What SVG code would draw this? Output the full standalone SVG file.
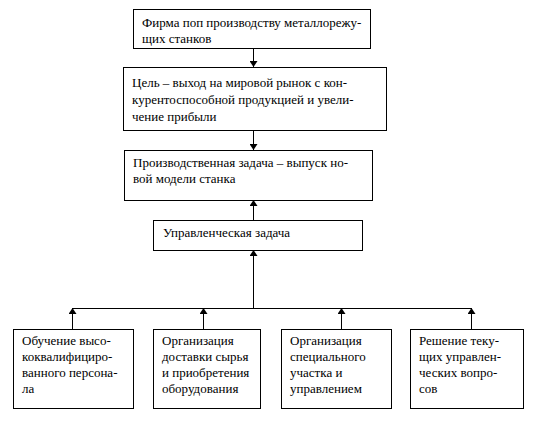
<svg xmlns="http://www.w3.org/2000/svg" width="536" height="428" viewBox="0 0 536 428">
<style>
.b{fill:#fff;stroke:#000;stroke-width:1}
.t{font-family:'Liberation Serif','DejaVu Serif',serif;font-size:13px;fill:#000}
.c{fill:none;stroke:#000;stroke-width:1}
</style>
<defs>
<marker id="ah" viewBox="0 0 6 8" refX="6" refY="4" markerWidth="6" markerHeight="8" markerUnits="userSpaceOnUse" orient="auto">
<path d="M0,0 L6,4 L0,8 Z" fill="#000"/>
</marker>
</defs>
<rect width="536" height="428" fill="#fff"/>
<g id="connectors">
<line class="c" x1="253.5" y1="48" x2="253.5" y2="67" marker-end="url(#ah)"/>
<line class="c" x1="253.5" y1="130" x2="253.5" y2="150" marker-end="url(#ah)"/>
<line class="c" x1="253.5" y1="220" x2="253.5" y2="200" marker-end="url(#ah)"/>
<line class="c" x1="253.5" y1="308" x2="253.5" y2="250" marker-end="url(#ah)"/>
<line class="c" x1="72" y1="308.5" x2="471" y2="308.5"/>
<line class="c" x1="72.5" y1="329" x2="72.5" y2="308" marker-end="url(#ah)"/>
<line class="c" x1="203.5" y1="329" x2="203.5" y2="308" marker-end="url(#ah)"/>
<line class="c" x1="341.5" y1="329" x2="341.5" y2="308" marker-end="url(#ah)"/>
<line class="c" x1="471.5" y1="329" x2="471.5" y2="308" marker-end="url(#ah)"/>
</g>
<g font-family="Liberation Serif, DejaVu Serif, serif">
<g id="n1">
<rect class="b" x="133.5" y="9.5" width="237" height="39"/>
<text class="t" x="142" y="27">Фирма поп производству металлорежу-</text>
<text class="t" x="142" y="43">щих станков</text>
</g>
<g id="n2">
<rect class="b" x="123.5" y="67.5" width="263" height="63"/>
<text class="t" x="132" y="87">Цель – выход на мировой рынок с кон-</text>
<text class="t" x="132" y="104">курентоспособной продукцией и увели-</text>
<text class="t" x="132" y="121">чение прибыли</text>
</g>
<g id="n3">
<rect class="b" x="124.5" y="150.5" width="248" height="50"/>
<text class="t" x="133" y="167">Производственная задача – выпуск но-</text>
<text class="t" x="133" y="183">вой модели станка</text>
</g>
<g id="n4">
<rect class="b" x="153.5" y="220.5" width="209" height="30"/>
<text class="t" x="163" y="237">Управленческая задача</text>
</g>
<g id="n5">
<rect class="b" x="13.5" y="329.5" width="120" height="79"/>
<text class="t" x="22" y="345">Обучение высо-</text>
<text class="t" x="22" y="361">коквалифициро-</text>
<text class="t" x="22" y="377">ванного персона-</text>
<text class="t" x="22" y="393">ла</text>
</g>
<g id="n6">
<rect class="b" x="153.5" y="329.5" width="107" height="79"/>
<text class="t" x="162" y="345">Организация</text>
<text class="t" x="162" y="361">доставки сырья</text>
<text class="t" x="162" y="377">и приобретения</text>
<text class="t" x="162" y="393">оборудования</text>
</g>
<g id="n7">
<rect class="b" x="281.5" y="329.5" width="110" height="79"/>
<text class="t" x="290" y="345">Организация</text>
<text class="t" x="290" y="361">специального</text>
<text class="t" x="290" y="377">участка и</text>
<text class="t" x="290" y="393">управлением</text>
</g>
<g id="n8">
<rect class="b" x="410.5" y="329.5" width="113" height="79"/>
<text class="t" x="419" y="345">Решение теку-</text>
<text class="t" x="419" y="361">щих управлен-</text>
<text class="t" x="419" y="377">ческих вопро-</text>
<text class="t" x="419" y="393">сов</text>
</g>
</g>
</svg>
